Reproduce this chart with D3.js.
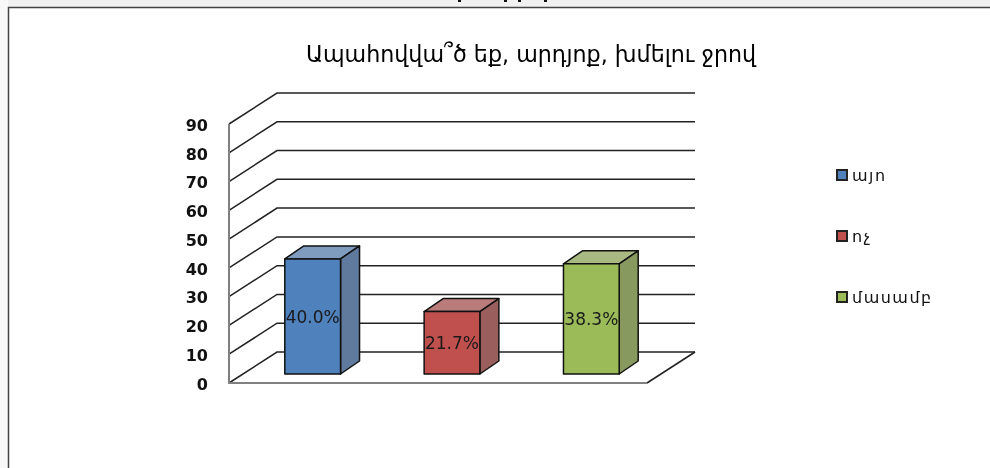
<!DOCTYPE html>
<html>
<head>
<meta charset="utf-8">
<script src="https://cdn.jsdelivr.net/npm/d3@7"></script>
<style>
  html, body { margin: 0; padding: 0; background: #fff; overflow: hidden; }
  text { font-family: "DejaVu Sans", sans-serif; }
  svg { filter: blur(0.35px); }
</style>
</head>
<body>
<div id="chart"></div>
<script>
// Data
const categories = ["այո", "ոչ", "մասամբ"];
const percents = [40.0, 21.7, 38.3];
const percentLabels = ["40.0%", "21.7%", "38.3%"];
const colours = ["#4f81bd", "#c0504d", "#9bbb59"];
const topColours = ["#7f9cbe", "#b97c7a", "#a8ba82"];
const sideColours = ["#5f7a9c", "#9a5f5d", "#87995f"];
const yTicks = [0, 10, 20, 30, 40, 50, 60, 70, 80, 90];
const chartTitle = "Ապահովվա՞ծ եք, արդյոք, խմելու ջրով";
const clippedMarks = [458, 504, 518, 544]; // bits of cut off text at the very top

// Dimensions
const dims = {width: 990, height: 468};
const wall = {dx: 48, dy: -31};     // depth of the whole 3d box
const barBase = {dx: 14, dy: -9};   // bars stand a bit inside the floor
const barDepth = {dx: 19, dy: -13};

// SVG
const svg = d3.select("#chart")
  .append("svg")
  .attr("width", dims.width)
  .attr("height", dims.height)
  .style("display", "block");

// Frame of the screenshot
svg.append("rect")
  .attr("width", dims.width).attr("height", 7)
  .attr("fill", "#f1f1f1");
svg.append("rect")
  .attr("width", 8).attr("height", dims.height)
  .attr("fill", "#f8f8f8");
svg.append("rect")
  .attr("x", 8.5).attr("y", 7.5)
  .attr("width", dims.width).attr("height", dims.height)
  .attr("fill", "#fff")
  .attr("stroke", "#444")
  .attr("stroke-width", 1.5);

svg.append("g")
  .selectAll("rect")
  .data(clippedMarks)
  .enter()
  .append("rect")
    .attr("x", d => d)
    .attr("y", 0)
    .attr("width", 3)
    .attr("height", 2)
    .attr("fill", "#111");

// Scales
const x = d3.scaleBand()
  .domain(categories)
  .range([229, 647])
  .paddingInner(0.6)
  .paddingOuter(0.3);

const y = d3.scaleLinear()
  .domain([0, 90])
  .range([383, 124]);

// Title
svg.append("text")
  .attr("x", 531)
  .attr("y", 62)
  .attr("text-anchor", "middle")
  .attr("font-size", 22.2)
  .attr("fill", "#000")
  .text(chartTitle);

// Grid group
const grid = svg.append("g").attr("class", "grid");

grid.selectAll("path.gridline")
  .data(yTicks)
  .enter()
  .append("path")
    .attr("class", "gridline")
    .attr("fill", "none")
    .attr("stroke", "#222")
    .attr("stroke-width", 1.5)
    .attr("d", d => {
      const x0 = x.range()[0], x1 = x.range()[1];
      return d3.line()([
        [x0, y(d)],
        [x0 + wall.dx, y(d) + wall.dy],
        [x1 + wall.dx, y(d) + wall.dy]
      ]);
    });

// Floor right edge
grid.append("path")
  .attr("fill", "none")
  .attr("stroke", "#222")
  .attr("stroke-width", 1.5)
  .attr("d", d3.line()([[x.range()[1], y(0)], [x.range()[1] + wall.dx, y(0) + wall.dy]]));

// Front wall line and floor front line
grid.append("path")
  .attr("fill", "none")
  .attr("stroke", "#808080")
  .attr("stroke-width", 2)
  .attr("d", d3.line()([[x.range()[0], y(90)], [x.range()[0], y(0)], [x.range()[1], y(0)]]));

// Y axis labels
svg.append("g")
  .selectAll("text")
  .data(yTicks)
  .enter()
  .append("text")
    .attr("x", 208)
    .attr("y", d => y(d) + 1)
    .attr("dy", "0.36em")
    .attr("text-anchor", "end")
    .attr("font-size", 16)
    .attr("font-weight", "bold")
    .attr("fill", "#111")
    .text(d => d);

// Bars
const bars = svg.append("g")
  .attr("class", "bars")
  .selectAll("g")
  .data(percents)
  .enter()
  .append("g")
    .attr("stroke", "#111")
    .attr("stroke-width", 1.5)
    .attr("stroke-linejoin", "round");

const left = (d, i) => x(categories[i]) + barBase.dx;
const right = (d, i) => left(d, i) + x.bandwidth();
const top_ = d => y(d) + barBase.dy;
const bottom = y(0) + barBase.dy;

bars.append("path")
  .attr("fill", (d, i) => topColours[i])
  .attr("d", (d, i) => d3.line()([
    [left(d, i), top_(d)],
    [left(d, i) + barDepth.dx, top_(d) + barDepth.dy],
    [right(d, i) + barDepth.dx, top_(d) + barDepth.dy],
    [right(d, i), top_(d)]
  ]) + "Z");

bars.append("path")
  .attr("fill", (d, i) => sideColours[i])
  .attr("d", (d, i) => d3.line()([
    [right(d, i), top_(d)],
    [right(d, i) + barDepth.dx, top_(d) + barDepth.dy],
    [right(d, i) + barDepth.dx, bottom + barDepth.dy],
    [right(d, i), bottom]
  ]) + "Z");

bars.append("rect")
  .attr("x", left)
  .attr("y", top_)
  .attr("width", x.bandwidth())
  .attr("height", d => bottom - top_(d))
  .attr("fill", (d, i) => colours[i]);

// Value labels
svg.append("g")
  .selectAll("text")
  .data(percents)
  .enter()
  .append("text")
    .attr("x", (d, i) => left(d, i) + x.bandwidth() / 2)
    .attr("y", d => (top_(d) + bottom) / 2)
    .attr("dy", "0.36em")
    .attr("text-anchor", "middle")
    .attr("font-size", 17)
    .attr("fill", "#1a1a1a")
    .text((d, i) => percentLabels[i]);

// Legend
const legendY = d3.scalePoint()
  .domain(categories)
  .range([175, 297]);

const legend = svg.append("g").attr("class", "legend");

legend.selectAll("rect")
  .data(categories)
  .enter()
  .append("rect")
    .attr("x", 837)
    .attr("y", d => legendY(d) - 5)
    .attr("width", 10)
    .attr("height", 10)
    .attr("fill", (d, i) => colours[i])
    .attr("stroke", "#222")
    .attr("stroke-width", 2);

legend.selectAll("text")
  .data(categories)
  .enter()
  .append("text")
    .attr("x", 852)
    .attr("y", d => legendY(d) + 6)
    .attr("font-size", 16)
    .attr("letter-spacing", 1.5)
    .attr("fill", "#111")
    .text(d => d);
</script>
</body>
</html>
